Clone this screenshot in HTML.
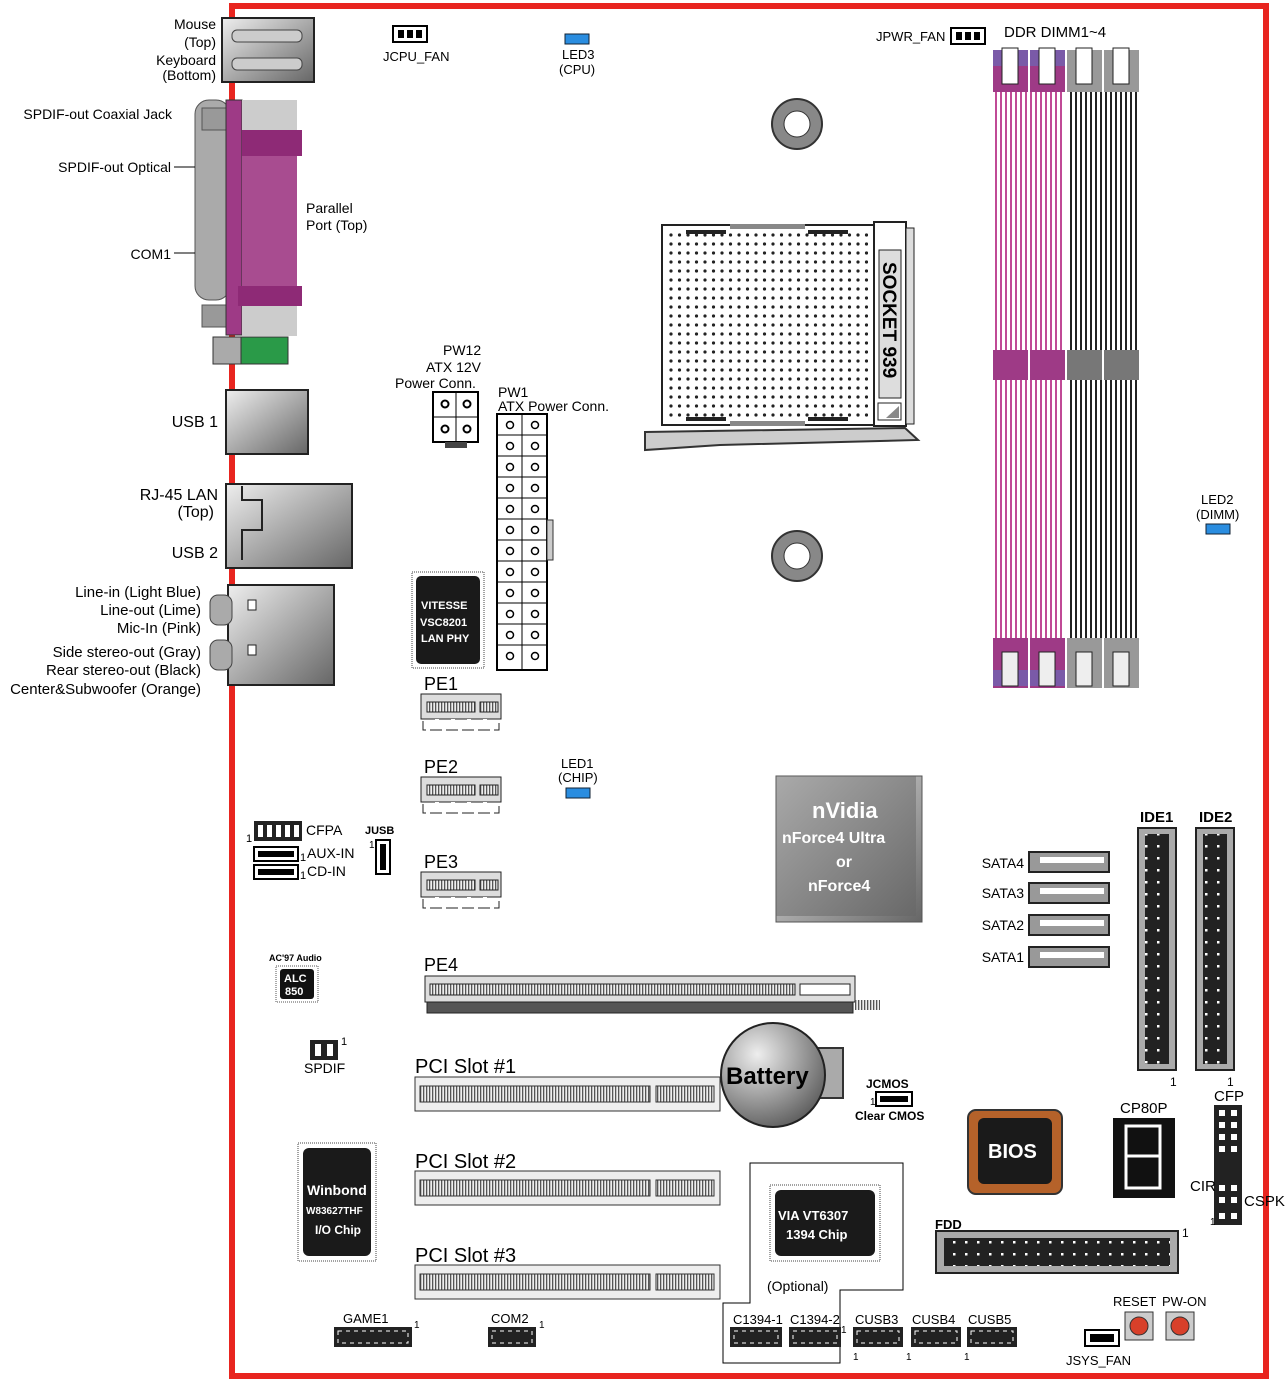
<!DOCTYPE html>
<html><head><meta charset="utf-8"><style>
body{margin:0;background:#fff}
svg{display:block;font-family:"Liberation Sans",Arial,sans-serif}
text{fill:#000}
.b{font-weight:bold}
.w{fill:#fff;font-weight:bold}
</style></head><body>
<svg width="1286" height="1381" viewBox="0 0 1286 1381" font-size="14" xmlns="http://www.w3.org/2000/svg">
<defs>
<pattern id="dots" x="668" y="232" width="8.5" height="9" patternUnits="userSpaceOnUse"><circle cx="3" cy="3" r="1.6" fill="#222"/></pattern>
<pattern id="pstr" width="5" height="10" patternUnits="userSpaceOnUse"><rect width="5" height="10" fill="#fff"/><rect width="2" height="10" fill="#c04a96"/></pattern>
<pattern id="kstr" width="5" height="10" patternUnits="userSpaceOnUse"><rect width="5" height="10" fill="#fff"/><rect width="2" height="10" fill="#222"/></pattern>
<pattern id="slot" width="3" height="10" patternUnits="userSpaceOnUse"><rect width="3" height="10" fill="#eee"/><rect width="1.3" height="10" fill="#555"/></pattern>
<pattern id="pins" width="12" height="12" patternUnits="userSpaceOnUse"><rect width="12" height="12" fill="#222"/><rect x="5" y="5" width="2.5" height="2.5" fill="#fff"/></pattern>
<linearGradient id="gr" x1="0" y1="0" x2="1" y2="1"><stop offset="0" stop-color="#eee"/><stop offset="1" stop-color="#666"/></linearGradient>
<radialGradient id="bat" cx="0.35" cy="0.3" r="0.8"><stop offset="0" stop-color="#eee"/><stop offset="1" stop-color="#555"/></radialGradient>
</defs>
<rect x="232" y="6" width="1034" height="1370" fill="none" stroke="#e8251f" stroke-width="6"/>

<!-- left I/O -->
<rect x="222" y="18" width="92" height="64" fill="url(#gr)" stroke="#222" stroke-width="2"/>
<rect x="232" y="30" width="70" height="12" rx="5" fill="#ccc" stroke="#444"/>
<rect x="232" y="58" width="70" height="12" rx="5" fill="#ccc" stroke="#444"/>
<rect x="195" y="100" width="35" height="200" rx="14" fill="#aaa" stroke="#555"/>
<rect x="202" y="108" width="24" height="22" fill="#999" stroke="#555"/>
<rect x="202" y="305" width="24" height="22" fill="#999" stroke="#555"/>
<rect x="226" y="100" width="16" height="235" fill="#9e3a86" stroke="#333"/>
<rect x="242" y="100" width="55" height="30" fill="#ccc"/>
<rect x="242" y="306" width="55" height="30" fill="#ccc"/>
<rect x="242" y="130" width="60" height="26" fill="#8e2a76"/>
<rect x="242" y="156" width="55" height="130" fill="#a84c90"/>
<rect x="238" y="286" width="64" height="20" fill="#8e2a76"/>
<rect x="213" y="337" width="75" height="27" fill="#2a9a48" stroke="#333"/>
<rect x="213" y="337" width="28" height="27" fill="#aaa" stroke="#333"/>
<rect x="226" y="390" width="82" height="64" fill="url(#gr)" stroke="#222" stroke-width="2"/>
<rect x="226" y="484" width="126" height="84" fill="url(#gr)" stroke="#222" stroke-width="2"/>
<polyline points="242,486 242,500 262,500 262,530 242,530 242,560" fill="none" stroke="#222" stroke-width="2"/>
<rect x="228" y="585" width="106" height="100" fill="url(#gr)" stroke="#222" stroke-width="2"/>
<rect x="210" y="595" width="22" height="30" rx="8" fill="#aaa" stroke="#444"/>
<rect x="210" y="640" width="22" height="30" rx="8" fill="#aaa" stroke="#444"/>
<rect x="248" y="600" width="8" height="10" fill="#fff" stroke="#222"/>
<rect x="248" y="645" width="8" height="10" fill="#fff" stroke="#222"/>

<g text-anchor="end">
<text x="216" y="29">Mouse</text><text x="216" y="47">(Top)</text>
<text x="216" y="65">Keyboard</text><text x="216" y="80">(Bottom)</text>
<text x="172" y="119">SPDIF-out Coaxial Jack</text>
<text x="171" y="172">SPDIF-out Optical</text>
<text x="171" y="259">COM1</text>
<text x="218" y="427" font-size="16">USB 1</text>
<text x="218" y="500" font-size="16">RJ-45 LAN</text><text x="214" y="517" font-size="16">(Top)</text>
<text x="218" y="558" font-size="16">USB 2</text>
<text x="201" y="597" font-size="15">Line-in (Light Blue)</text>
<text x="201" y="615" font-size="15">Line-out (Lime)</text>
<text x="201" y="633" font-size="15">Mic-In (Pink)</text>
<text x="201" y="657" font-size="15">Side stereo-out (Gray)</text>
<text x="201" y="675" font-size="15">Rear stereo-out (Black)</text>
<text x="201" y="694" font-size="15">Center&amp;Subwoofer (Orange)</text>
</g>
<line x1="174" y1="167" x2="195" y2="167" stroke="#000"/>
<line x1="174" y1="253" x2="195" y2="253" stroke="#000"/>
<text x="306" y="213">Parallel</text><text x="306" y="230">Port (Top)</text>

<!-- top headers -->
<rect x="393" y="26" width="34" height="16" fill="#fff" stroke="#000" stroke-width="2"/>
<rect x="398" y="30" width="6" height="8" fill="#000"/><rect x="407" y="30" width="6" height="8" fill="#000"/><rect x="416" y="30" width="6" height="8" fill="#000"/>
<text x="383" y="61" font-size="13">JCPU_FAN</text>
<rect x="565" y="34" width="24" height="10" fill="#2a8de0" stroke="#123"/>
<text x="562" y="59" font-size="13">LED3</text><text x="559" y="74" font-size="13">(CPU)</text>
<text x="876" y="41" font-size="13">JPWR_FAN</text>
<rect x="951" y="28" width="34" height="16" fill="#fff" stroke="#000" stroke-width="2"/>
<rect x="956" y="32" width="6" height="8" fill="#000"/><rect x="965" y="32" width="6" height="8" fill="#000"/><rect x="974" y="32" width="6" height="8" fill="#000"/>
<text x="1004" y="37" font-size="15">DDR DIMM1~4</text>

<!-- DIMMs -->
<g>
<rect x="993" y="50" width="35" height="42" fill="#9e3a86"/><rect x="993" y="50" width="35" height="16" fill="#7a5aa8"/>
<rect x="1030" y="50" width="35" height="42" fill="#9e3a86"/><rect x="1030" y="50" width="35" height="16" fill="#7a5aa8"/>
<rect x="1067" y="50" width="35" height="42" fill="#999"/><rect x="1104" y="50" width="35" height="42" fill="#999"/>
<rect x="993" y="92" width="35" height="258" fill="url(#pstr)"/><rect x="1030" y="92" width="35" height="258" fill="url(#pstr)"/>
<rect x="1067" y="92" width="35" height="258" fill="url(#kstr)"/><rect x="1104" y="92" width="35" height="258" fill="url(#kstr)"/>
<rect x="993" y="350" width="35" height="30" fill="#9e3a86"/><rect x="1030" y="350" width="35" height="30" fill="#9e3a86"/>
<rect x="1067" y="350" width="35" height="30" fill="#777"/><rect x="1104" y="350" width="35" height="30" fill="#777"/>
<rect x="993" y="380" width="35" height="258" fill="url(#pstr)"/><rect x="1030" y="380" width="35" height="258" fill="url(#pstr)"/>
<rect x="1067" y="380" width="35" height="258" fill="url(#kstr)"/><rect x="1104" y="380" width="35" height="258" fill="url(#kstr)"/>
<rect x="993" y="638" width="35" height="50" fill="#9e3a86"/><rect x="1030" y="638" width="35" height="50" fill="#9e3a86"/>
<rect x="1067" y="638" width="35" height="50" fill="#999"/><rect x="1104" y="638" width="35" height="50" fill="#999"/>
<rect x="993" y="670" width="35" height="16" fill="#7a5aa8"/><rect x="1030" y="670" width="35" height="16" fill="#7a5aa8"/>
<rect x="1002" y="48" width="16" height="36" fill="#fff" stroke="#222"/><rect x="1039" y="48" width="16" height="36" fill="#fff" stroke="#222"/>
<rect x="1076" y="48" width="16" height="36" fill="#fff" stroke="#222"/><rect x="1113" y="48" width="16" height="36" fill="#fff" stroke="#222"/>
<rect x="1002" y="652" width="16" height="34" fill="#eee" stroke="#222"/><rect x="1039" y="652" width="16" height="34" fill="#eee" stroke="#222"/>
<rect x="1076" y="652" width="16" height="34" fill="#eee" stroke="#222"/><rect x="1113" y="652" width="16" height="34" fill="#eee" stroke="#222"/>
</g>
<text x="1201" y="504" font-size="13">LED2</text><text x="1196" y="519" font-size="13">(DIMM)</text>
<rect x="1206" y="524" width="24" height="10" fill="#2a8de0" stroke="#123"/>

<circle cx="797" cy="124" r="25" fill="#888" stroke="#333" stroke-width="2"/><circle cx="797" cy="124" r="13" fill="#fff" stroke="#333"/>
<circle cx="797" cy="556" r="25" fill="#888" stroke="#333" stroke-width="2"/><circle cx="797" cy="556" r="13" fill="#fff" stroke="#333"/>

<!-- socket -->
<polygon points="645,432 905,428 918,440 720,445 645,450" fill="#ccc" stroke="#333" stroke-width="2"/>
<rect x="662" y="225" width="212" height="200" fill="#fff" stroke="#222" stroke-width="2"/>
<rect x="668" y="232" width="200" height="188" fill="url(#dots)"/>
<rect x="686" y="230" width="40" height="4" fill="#222"/><rect x="808" y="230" width="40" height="4" fill="#222"/>
<rect x="686" y="417" width="40" height="4" fill="#222"/><rect x="808" y="417" width="40" height="4" fill="#222"/>
<rect x="730" y="224" width="75" height="5" fill="#888"/><rect x="730" y="421" width="75" height="5" fill="#888"/>
<rect x="874" y="222" width="32" height="204" fill="#fff" stroke="#222" stroke-width="2"/>
<rect x="906" y="228" width="8" height="196" fill="#ddd" stroke="#222"/>
<rect x="879" y="250" width="22" height="148" fill="#ddd" stroke="#222"/>
<text transform="translate(883,262) rotate(90)" class="b" font-size="19">SOCKET 939</text>
<rect x="878" y="403" width="23" height="17" fill="#fff" stroke="#222"/>
<polygon points="886,418 899,418 899,406" fill="#888"/>

<!-- power -->
<text x="443" y="355">PW12</text><text x="426" y="372">ATX 12V</text><text x="395" y="388">Power  Conn.</text>
<rect x="433" y="392" width="45" height="50" fill="#fff" stroke="#000" stroke-width="2"/>
<line x1="456" y1="392" x2="456" y2="442" stroke="#000"/><line x1="433" y1="417" x2="478" y2="417" stroke="#000"/>
<g fill="none" stroke="#000" stroke-width="2"><circle cx="445" cy="404" r="3.5"/><circle cx="467" cy="404" r="3.5"/><circle cx="445" cy="429" r="3.5"/><circle cx="467" cy="429" r="3.5"/></g>
<rect x="445" y="442" width="22" height="6" fill="#444"/>
<text x="498" y="397">PW1</text><text x="498" y="411">ATX Power Conn.</text>
<rect x="497" y="414" width="50" height="256" fill="#fff" stroke="#000" stroke-width="2"/>
<rect x="547" y="520" width="6" height="40" fill="#ccc" stroke="#333"/>
<path d="M522,414V670M497,435H547M497,456H547M497,477H547M497,498H547M497,519H547M497,540H547M497,561H547M497,582H547M497,603H547M497,624H547M497,645H547" fill="none" stroke="#000"/>
<g fill="none" stroke="#000" stroke-width="1.5">
<circle cx="510" cy="425" r="3.5"/><circle cx="535" cy="425" r="3.5"/><circle cx="510" cy="446" r="3.5"/><circle cx="535" cy="446" r="3.5"/>
<circle cx="510" cy="467" r="3.5"/><circle cx="535" cy="467" r="3.5"/><circle cx="510" cy="488" r="3.5"/><circle cx="535" cy="488" r="3.5"/>
<circle cx="510" cy="509" r="3.5"/><circle cx="535" cy="509" r="3.5"/><circle cx="510" cy="530" r="3.5"/><circle cx="535" cy="530" r="3.5"/>
<circle cx="510" cy="551" r="3.5"/><circle cx="535" cy="551" r="3.5"/><circle cx="510" cy="572" r="3.5"/><circle cx="535" cy="572" r="3.5"/>
<circle cx="510" cy="593" r="3.5"/><circle cx="535" cy="593" r="3.5"/><circle cx="510" cy="614" r="3.5"/><circle cx="535" cy="614" r="3.5"/>
<circle cx="510" cy="635" r="3.5"/><circle cx="535" cy="635" r="3.5"/><circle cx="510" cy="656" r="3.5"/><circle cx="535" cy="656" r="3.5"/>
</g>

<!-- VITESSE -->
<rect x="412" y="572" width="72" height="96" fill="#fff" stroke="#444" stroke-dasharray="1 1"/>
<rect x="416" y="576" width="64" height="88" rx="5" fill="#1a1a1a"/>
<text x="421" y="609" class="w" font-size="11">VITESSE</text><text x="420" y="626" class="w" font-size="11">VSC8201</text><text x="421" y="642" class="w" font-size="11">LAN PHY</text>

<!-- PE slots -->
<text x="424" y="690" font-size="18">PE1</text>
<text x="424" y="773" font-size="18">PE2</text>
<text x="424" y="868" font-size="18">PE3</text>
<text x="424" y="971" font-size="18">PE4</text>
<g stroke="#222">
<rect x="421" y="694" width="80" height="25" fill="#ddd"/><rect x="427" y="702" width="48" height="10" fill="url(#slot)"/><rect x="480" y="702" width="18" height="10" fill="url(#slot)"/>
<rect x="423" y="719" width="76" height="11" fill="#fff" stroke-dasharray="12 4"/>
<rect x="421" y="777" width="80" height="25" fill="#ddd"/><rect x="427" y="785" width="48" height="10" fill="url(#slot)"/><rect x="480" y="785" width="18" height="10" fill="url(#slot)"/>
<rect x="423" y="802" width="76" height="11" fill="#fff" stroke-dasharray="12 4"/>
<rect x="421" y="872" width="80" height="25" fill="#ddd"/><rect x="427" y="880" width="48" height="10" fill="url(#slot)"/><rect x="480" y="880" width="18" height="10" fill="url(#slot)"/>
<rect x="423" y="897" width="76" height="11" fill="#fff" stroke-dasharray="12 4"/>
<rect x="425" y="976" width="430" height="26" fill="#ddd"/><rect x="430" y="984" width="365" height="11" fill="url(#slot)"/><rect x="800" y="984" width="50" height="11" fill="#fff"/>
<rect x="427" y="1002" width="426" height="11" fill="#555"/>
<rect x="855" y="1000" width="25" height="10" fill="url(#slot)" stroke="none"/>
</g>
<text x="561" y="768" font-size="13">LED1</text><text x="558" y="782" font-size="13">(CHIP)</text>
<rect x="566" y="788" width="24" height="10" fill="#2a8de0" stroke="#123"/>

<!-- left headers -->
<rect x="254" y="821" width="48" height="20" fill="#222"/>
<g fill="#fff"><rect x="258" y="825" width="5" height="12"/><rect x="267" y="825" width="5" height="12"/><rect x="276" y="825" width="5" height="12"/><rect x="285" y="825" width="5" height="12"/><rect x="294" y="825" width="5" height="12"/></g>
<text x="246" y="842" font-size="11">1</text><text x="306" y="835">CFPA</text>
<rect x="254" y="847" width="44" height="14" fill="#fff" stroke="#000" stroke-width="2"/><rect x="258" y="851" width="36" height="6" fill="#000"/>
<rect x="254" y="865" width="44" height="14" fill="#fff" stroke="#000" stroke-width="2"/><rect x="258" y="869" width="36" height="6" fill="#000"/>
<text x="300" y="861" font-size="11">1</text><text x="307" y="858">AUX-IN</text>
<text x="300" y="879" font-size="11">1</text><text x="307" y="876">CD-IN</text>
<text x="365" y="834" class="b" font-size="11">JUSB</text>
<rect x="376" y="840" width="14" height="34" fill="#fff" stroke="#000" stroke-width="2"/>
<rect x="380" y="844" width="6" height="26" fill="#000"/>
<text x="369" y="848" font-size="10">1</text>
<text x="269" y="961" class="b" font-size="9">AC'97 Audio</text>
<rect x="276" y="966" width="42" height="36" fill="#fff" stroke="#555" stroke-dasharray="1 1"/>
<rect x="280" y="969" width="34" height="30" rx="3" fill="#111"/>
<text x="284" y="982" class="w" font-size="11">ALC</text><text x="285" y="995" class="w" font-size="11">850</text>
<rect x="310" y="1040" width="28" height="20" fill="#222"/>
<rect x="315" y="1044" width="6" height="12" fill="#fff"/><rect x="327" y="1044" width="6" height="12" fill="#fff"/>
<text x="341" y="1045" font-size="11">1</text><text x="304" y="1073">SPDIF</text>

<!-- Winbond -->
<rect x="298" y="1143" width="78" height="118" fill="#fff" stroke="#444" stroke-dasharray="1 1"/>
<rect x="303" y="1148" width="68" height="108" rx="6" fill="#1a1a1a"/>
<text x="307" y="1195" class="w" font-size="14">Winbond</text>
<text x="306" y="1214" class="w" font-size="10">W83627THF</text>
<text x="315" y="1234" class="w" font-size="12">I/O Chip</text>

<!-- PCI -->
<text x="415" y="1073" font-size="20">PCI Slot #1</text>
<text x="415" y="1168" font-size="20">PCI Slot #2</text>
<text x="415" y="1262" font-size="20">PCI Slot #3</text>
<g stroke="#333">
<rect x="415" y="1077" width="305" height="34" fill="#eee"/><rect x="420" y="1086" width="230" height="16" fill="url(#slot)"/><rect x="656" y="1086" width="58" height="16" fill="url(#slot)"/>
<rect x="415" y="1171" width="305" height="34" fill="#eee"/><rect x="420" y="1180" width="230" height="16" fill="url(#slot)"/><rect x="656" y="1180" width="58" height="16" fill="url(#slot)"/>
<rect x="415" y="1265" width="305" height="34" fill="#eee"/><rect x="420" y="1274" width="230" height="16" fill="url(#slot)"/><rect x="656" y="1274" width="58" height="16" fill="url(#slot)"/>
</g>

<!-- battery -->
<rect x="815" y="1048" width="28" height="50" fill="#aaa" stroke="#333" stroke-width="2"/>
<circle cx="773" cy="1075" r="52" fill="url(#bat)" stroke="#222" stroke-width="2"/>
<text x="726" y="1084" class="b" font-size="24">Battery</text>
<text x="866" y="1088" class="b" font-size="12">JCMOS</text>
<text x="870" y="1105" font-size="10">1</text>
<rect x="876" y="1092" width="36" height="14" fill="#fff" stroke="#000" stroke-width="2"/><rect x="880" y="1096" width="28" height="6" fill="#000"/>
<text x="855" y="1120" class="b" font-size="12">Clear CMOS</text>

<!-- nVidia -->
<rect x="776" y="776" width="146" height="146" fill="url(#gr)" stroke="#555"/>
<rect x="776" y="776" width="140" height="140" fill="#666" opacity="0.5"/>
<text x="812" y="818" class="w" font-size="22">nVidia</text>
<text x="782" y="843" class="w" font-size="16">nForce4 Ultra</text>
<text x="836" y="867" class="w" font-size="16">or</text>
<text x="808" y="891" class="w" font-size="16">nForce4</text>

<!-- SATA -->
<g text-anchor="end"><text x="1024" y="868">SATA4</text><text x="1024" y="898">SATA3</text><text x="1024" y="930">SATA2</text><text x="1024" y="962">SATA1</text></g>
<g fill="#999" stroke="#222" stroke-width="2">
<rect x="1029" y="852" width="80" height="20"/><rect x="1029" y="883" width="80" height="20"/><rect x="1029" y="915" width="80" height="20"/><rect x="1029" y="947" width="80" height="20"/>
</g>
<g fill="#fff"><rect x="1040" y="857" width="64" height="6"/><rect x="1040" y="888" width="64" height="6"/><rect x="1040" y="920" width="64" height="6"/><rect x="1040" y="952" width="64" height="6"/></g>

<!-- IDE -->
<text x="1140" y="822" class="b" font-size="15">IDE1</text><text x="1199" y="822" class="b" font-size="15">IDE2</text>
<rect x="1138" y="828" width="38" height="242" fill="#aaa" stroke="#222" stroke-width="2"/><rect x="1145" y="834" width="24" height="230" fill="url(#pins)"/>
<rect x="1196" y="828" width="38" height="242" fill="#aaa" stroke="#222" stroke-width="2"/><rect x="1203" y="834" width="24" height="230" fill="url(#pins)"/>
<text x="1170" y="1086" font-size="12">1</text><text x="1227" y="1086" font-size="12">1</text>

<!-- BIOS -->
<rect x="968" y="1110" width="94" height="84" rx="8" fill="#b5622a" stroke="#333" stroke-width="2"/>
<rect x="978" y="1118" width="74" height="66" rx="6" fill="#1a1a1a"/>
<text x="988" y="1158" class="w" font-size="20">BIOS</text>
<text x="1120" y="1113" font-size="15">CP80P</text>
<rect x="1113" y="1118" width="62" height="80" fill="#111"/>
<path d="M1126,1126H1160V1156H1126ZM1126,1156V1188H1160V1156" fill="none" stroke="#fff" stroke-width="3"/>
<text x="1214" y="1101" font-size="15">CFP</text>
<rect x="1214" y="1105" width="28" height="120" fill="#222"/>
<g fill="#fff"><rect x="1219" y="1110" width="6" height="6"/><rect x="1231" y="1110" width="6" height="6"/><rect x="1219" y="1122" width="6" height="6"/><rect x="1231" y="1122" width="6" height="6"/><rect x="1219" y="1134" width="6" height="6"/><rect x="1231" y="1134" width="6" height="6"/><rect x="1219" y="1146" width="6" height="6"/><rect x="1231" y="1146" width="6" height="6"/><rect x="1219" y="1185" width="6" height="6"/><rect x="1231" y="1185" width="6" height="6"/><rect x="1219" y="1197" width="6" height="6"/><rect x="1231" y="1197" width="6" height="6"/><rect x="1219" y="1213" width="6" height="6"/><rect x="1231" y="1213" width="6" height="6"/></g>
<text x="1190" y="1191" font-size="15">CIR</text><text x="1244" y="1206" font-size="15">CSPK</text>
<text x="1210" y="1225" font-size="10">1</text>

<!-- FDD -->
<text x="935" y="1229" class="b" font-size="13">FDD</text>
<rect x="936" y="1231" width="242" height="42" fill="#aaa" stroke="#222" stroke-width="2"/>
<rect x="944" y="1238" width="226" height="28" fill="url(#pins)"/>
<text x="1182" y="1237" font-size="12">1</text>

<!-- VIA -->
<path d="M750,1163H903V1290H840V1363H723V1303H750Z" fill="none" stroke="#000"/>
<rect x="770" y="1185" width="110" height="76" fill="#fff" stroke="#444" stroke-dasharray="1 1"/>
<rect x="775" y="1190" width="100" height="66" rx="6" fill="#1a1a1a"/>
<text x="778" y="1220" class="w" font-size="13">VIA VT6307</text><text x="786" y="1239" class="w" font-size="13">1394 Chip</text>
<text x="767" y="1291">(Optional)</text>

<!-- bottom headers -->
<g fill="#222">
<rect x="334" y="1327" width="78" height="20"/><rect x="488" y="1327" width="48" height="20"/>
<rect x="730" y="1327" width="52" height="20"/><rect x="789" y="1327" width="52" height="20"/>
<rect x="853" y="1327" width="50" height="20"/><rect x="911" y="1327" width="50" height="20"/><rect x="967" y="1327" width="50" height="20"/>
</g>
<g fill="none" stroke="#fff" stroke-dasharray="4 4">
<rect x="338" y="1331" width="70" height="12"/><rect x="492" y="1331" width="40" height="12"/>
<rect x="734" y="1331" width="44" height="12"/><rect x="793" y="1331" width="44" height="12"/>
<rect x="857" y="1331" width="42" height="12"/><rect x="915" y="1331" width="42" height="12"/><rect x="971" y="1331" width="42" height="12"/>
</g>
<g font-size="13">
<text x="343" y="1323">GAME1</text><text x="414" y="1328" font-size="10">1</text>
<text x="491" y="1323">COM2</text><text x="539" y="1328" font-size="10">1</text>
<text x="733" y="1324">C1394-1</text><text x="790" y="1324">C1394-2</text><text x="841" y="1333" font-size="10">1</text>
<text x="855" y="1324">CUSB3</text><text x="912" y="1324">CUSB4</text><text x="968" y="1324">CUSB5</text>
<text x="853" y="1360" font-size="10">1</text><text x="906" y="1360" font-size="10">1</text><text x="964" y="1360" font-size="10">1</text>
<text x="1113" y="1306">RESET</text><text x="1162" y="1306">PW-ON</text>
<text x="1066" y="1365">JSYS_FAN</text>
</g>
<rect x="1085" y="1330" width="34" height="16" fill="#fff" stroke="#000" stroke-width="2"/>
<rect x="1090" y="1334" width="24" height="8" fill="#000"/>
<rect x="1125" y="1312" width="28" height="28" fill="#ccc" stroke="#333"/><circle cx="1139" cy="1326" r="9" fill="#d8402a" stroke="#333"/>
<rect x="1166" y="1312" width="28" height="28" fill="#ccc" stroke="#333"/><circle cx="1180" cy="1326" r="9" fill="#d8402a" stroke="#333"/>
</svg>
</body></html>
